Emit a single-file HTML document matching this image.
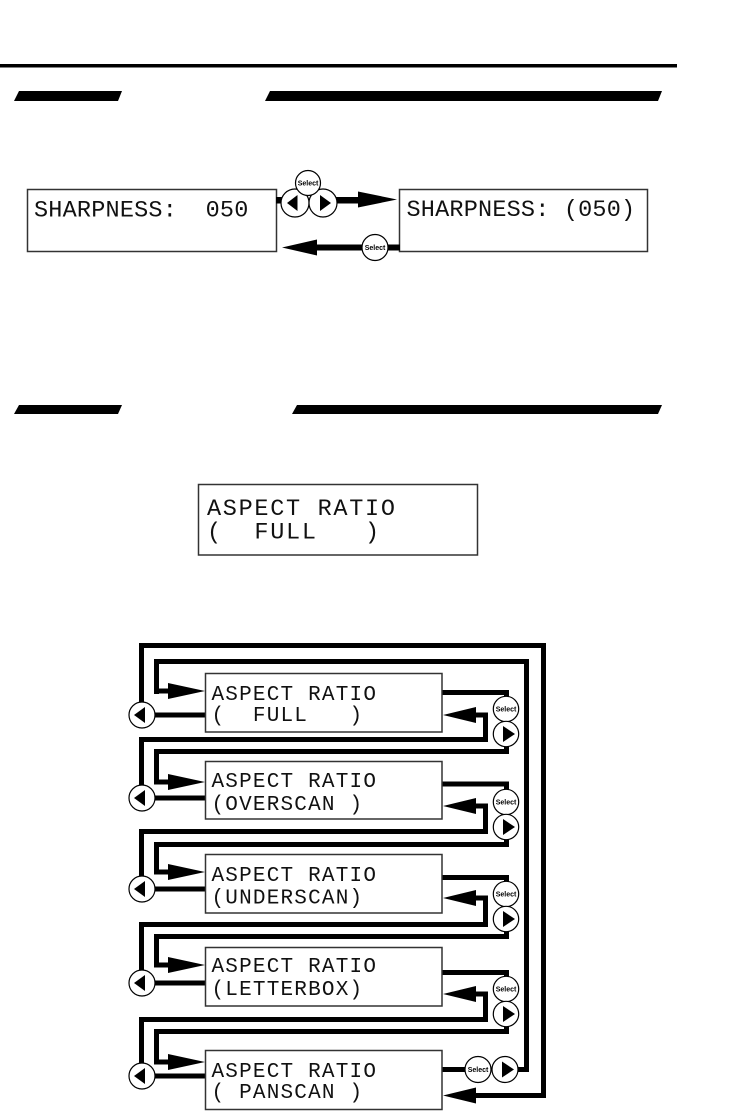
<!DOCTYPE html>
<html><head><meta charset="utf-8">
<style>
html,body{margin:0;padding:0;background:#fff;}
svg{display:block}
.m{font-family:"Liberation Mono",monospace;white-space:pre;fill:#111}
.s{font-family:"Liberation Sans",sans-serif;font-weight:bold;font-size:7px;fill:#000}
.bx{fill:none;stroke:#333;stroke-width:1.5}
.c{fill:#fff;stroke:#000;stroke-width:1.2}
</style></head><body>
<svg width="730" height="1111" viewBox="0 0 730 1111" xmlns="http://www.w3.org/2000/svg" xml:space="preserve">
<rect x="0" y="64" width="677" height="3.5" fill="#000"/>
<polygon points="19,91 122,91 118,101 14,101" fill="#000"/>
<polygon points="270,91 662,91 658,101 265,101" fill="#000"/>
<polygon points="19,405 122,405 118,414 14,414" fill="#000"/>
<polygon points="297,405 662,405 658,414 292,414" fill="#000"/>

<rect x="27.5" y="189.5" width="249" height="62" class="bx"/>
<rect x="399.5" y="189.5" width="248" height="62" class="bx"/>
<text class="m" x="34" y="216.5" font-size="23.5" letter-spacing="0.2">SHARPNESS:  050</text>
<text class="m" x="406.5" y="216" font-size="23.5" letter-spacing="0.2">SHARPNESS: (050)</text>

<rect x="276" y="197" width="8" height="6.5" fill="#000"/>
<rect x="336" y="197" width="24" height="6.5" fill="#000"/>
<polygon points="358,191.5 397,199.5 358,207.5" fill="#000"/>
<circle cx="295" cy="203" r="14" class="c"/>
<circle cx="323" cy="203" r="14" class="c"/>
<polygon points="287,203 297.5,195 297.5,211" fill="#000"/>
<polygon points="320,195 320,211 331,203" fill="#000"/>
<circle cx="308" cy="183" r="12.5" class="c"/>
<text class="s" x="308" y="185.5" text-anchor="middle">Select</text>

<polygon points="282,247.5 317,239.5 317,255.5" fill="#000"/>
<rect x="316" y="244.5" width="84" height="6" fill="#000"/>
<circle cx="375" cy="247.5" r="13" class="c"/>
<text class="s" x="375" y="250" text-anchor="middle">Select</text>

<rect x="198.5" y="484.5" width="279" height="70.5" class="bx"/>
<text class="m" x="207" y="515" font-size="23.5" letter-spacing="1.7">ASPECT RATIO</text>
<text class="m" x="207" y="538.5" font-size="23.5" letter-spacing="1.7">(  FULL   )</text>

<g fill="#000">
<rect x="139" y="643" width="407" height="5"/>
<rect x="541" y="643" width="5" height="455"/>
<rect x="474" y="1093" width="72" height="5"/>
<rect x="154" y="659" width="375" height="5"/>
<rect x="524" y="659" width="5" height="413"/>
<rect x="517" y="1067" width="12" height="5"/>

<rect x="154" y="659" width="5" height="35"/>
<rect x="154" y="688.5" width="16" height="5"/>
<polygon points="168,683 205,691 168,699"/>
<rect x="139" y="643" width="5" height="60"/>
<rect x="155" y="712.5" width="50" height="5"/>
<rect x="442" y="690" width="67" height="5"/>
<rect x="504" y="690" width="5" height="8"/>
<rect x="504" y="746" width="5" height="8"/>
<polygon points="443,715 476,707 476,723"/>
<rect x="474" y="712.5" width="14" height="5"/>
<rect x="483" y="712.5" width="5" height="29.5"/>

<rect x="139" y="737" width="349" height="5"/>
<rect x="154" y="749" width="355" height="5"/>
<rect x="154" y="749" width="5" height="35.5"/>
<rect x="154" y="779.5" width="16" height="5"/>
<polygon points="168,774 205,782 168,790"/>
<rect x="139" y="737" width="5" height="48"/>
<rect x="155" y="795.5" width="50" height="5"/>
<rect x="442" y="781.5" width="67" height="5"/>
<rect x="504" y="781.5" width="5" height="8"/>
<rect x="504" y="839" width="5" height="8"/>
<polygon points="443,806 476,798 476,814"/>
<rect x="474" y="803.5" width="14" height="5"/>
<rect x="483" y="803.5" width="5" height="30.5"/>

<rect x="139" y="829" width="349" height="5"/>
<rect x="154" y="842" width="355" height="5"/>
<rect x="154" y="842" width="5" height="32.5"/>
<rect x="154" y="869.5" width="16" height="5"/>
<polygon points="168,864 205,872 168,880"/>
<rect x="139" y="829" width="5" height="47"/>
<rect x="155" y="886.5" width="50" height="5"/>
<rect x="442" y="875" width="67" height="5"/>
<rect x="504" y="875" width="5" height="7"/>
<rect x="504" y="931" width="5" height="8"/>
<polygon points="443,898 476,890 476,906"/>
<rect x="474" y="895.5" width="14" height="5"/>
<rect x="483" y="895.5" width="5" height="31.5"/>

<rect x="139" y="922" width="349" height="5"/>
<rect x="154" y="934" width="355" height="5"/>
<rect x="154" y="934" width="5" height="33.5"/>
<rect x="154" y="962.5" width="16" height="5"/>
<polygon points="168,957 205,965 168,973"/>
<rect x="139" y="922" width="5" height="48"/>
<rect x="155" y="980.5" width="50" height="5"/>
<rect x="442" y="970" width="67" height="5"/>
<rect x="504" y="970" width="5" height="7"/>
<rect x="504" y="1026" width="5" height="8"/>
<polygon points="443,994 476,986 476,1002"/>
<rect x="474" y="991.5" width="14" height="5"/>
<rect x="483" y="991.5" width="5" height="30.5"/>

<rect x="139" y="1017" width="349" height="5"/>
<rect x="154" y="1029" width="355" height="5"/>
<rect x="154" y="1029" width="5" height="35.5"/>
<rect x="154" y="1059.5" width="16" height="5"/>
<polygon points="168,1054 205,1062 168,1070"/>
<rect x="139" y="1017" width="5" height="46"/>
<rect x="155" y="1073.5" width="50" height="5"/>
<rect x="442" y="1067" width="24" height="5"/>
<polygon points="443,1095.5 476,1087.5 476,1103.5"/>
</g>

<rect x="205.5" y="673.5" width="236.5" height="58.5" class="bx"/>
<rect x="205.5" y="761.5" width="236.5" height="57.5" class="bx"/>
<rect x="205.5" y="854.5" width="236.5" height="58.5" class="bx"/>
<rect x="205.5" y="947.5" width="236.5" height="58.5" class="bx"/>
<rect x="205.5" y="1050.5" width="236.5" height="59" class="bx"/>

<text class="m" font-size="21" letter-spacing="1.2" x="211.5" y="700">ASPECT RATIO</text>
<text class="m" font-size="21" letter-spacing="1.2" x="211.5" y="721">(  FULL   )</text>
<text class="m" font-size="21" letter-spacing="1.2" x="211.5" y="787">ASPECT RATIO</text>
<text class="m" font-size="21" letter-spacing="1.2" x="211.5" y="810">(OVERSCAN )</text>
<text class="m" font-size="21" letter-spacing="1.2" x="211.5" y="881">ASPECT RATIO</text>
<text class="m" font-size="21" letter-spacing="1.2" x="211.5" y="903.5">(UNDERSCAN)</text>
<text class="m" font-size="21" letter-spacing="1.2" x="211.5" y="972">ASPECT RATIO</text>
<text class="m" font-size="21" letter-spacing="1.2" x="211.5" y="995">(LETTERBOX)</text>
<text class="m" font-size="21" letter-spacing="1.2" x="211.5" y="1077">ASPECT RATIO</text>
<text class="m" font-size="21" letter-spacing="1.2" x="211.5" y="1098">( PANSCAN )</text>

<circle cx="142" cy="715" r="13" class="c"/>
<polygon points="134,715 145,707 145,723" fill="#000"/>
<circle cx="142" cy="798" r="13" class="c"/>
<polygon points="134,798 145,790 145,806" fill="#000"/>
<circle cx="142" cy="889" r="13" class="c"/>
<polygon points="134,889 145,881 145,897" fill="#000"/>
<circle cx="142" cy="983" r="13" class="c"/>
<polygon points="134,983 145,975 145,991" fill="#000"/>
<circle cx="142" cy="1076" r="13" class="c"/>
<polygon points="134,1076 145,1068 145,1084" fill="#000"/>

<circle cx="506" cy="709" r="12.7" class="c"/>
<text class="s" x="506" y="711.5" text-anchor="middle">Select</text>
<circle cx="506" cy="734" r="12.7" class="c"/>
<polygon points="503,726 503,742 515,734" fill="#000"/>

<circle cx="506" cy="802" r="12.7" class="c"/>
<text class="s" x="506" y="804.5" text-anchor="middle">Select</text>
<circle cx="506" cy="827" r="12.7" class="c"/>
<polygon points="503,819 503,835 515,827" fill="#000"/>

<circle cx="506" cy="894" r="12.7" class="c"/>
<text class="s" x="506" y="896.5" text-anchor="middle">Select</text>
<circle cx="506" cy="919" r="12.7" class="c"/>
<polygon points="503,911 503,927 515,919" fill="#000"/>

<circle cx="506" cy="989" r="12.7" class="c"/>
<text class="s" x="506" y="991.5" text-anchor="middle">Select</text>
<circle cx="506" cy="1014" r="12.7" class="c"/>
<polygon points="503,1006 503,1022 515,1014" fill="#000"/>

<circle cx="478" cy="1069.5" r="13" class="c"/>
<text class="s" x="478" y="1072" text-anchor="middle">Select</text>
<circle cx="505" cy="1069.5" r="13" class="c"/>
<polygon points="502,1061.5 502,1077.5 514,1069.5" fill="#000"/>
</svg>
</body></html>
